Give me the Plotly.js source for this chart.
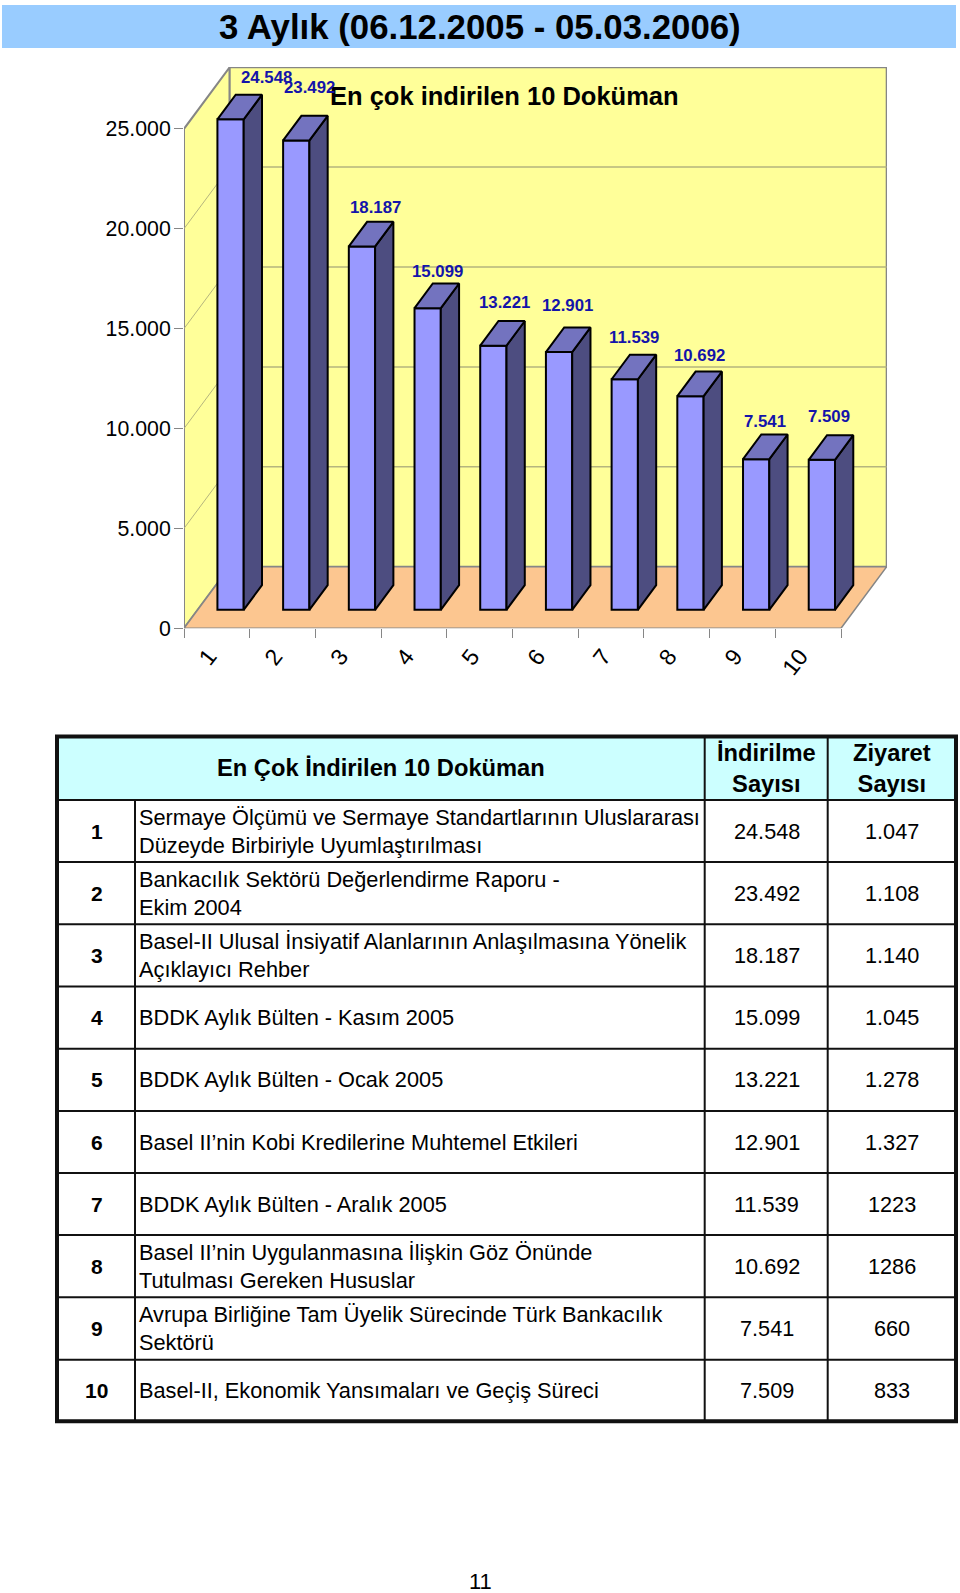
<!DOCTYPE html>
<html>
<head>
<meta charset="utf-8">
<script src="https://cdn.plot.ly/plotly-3.0.1.min.js"></script>
<style>html,body{margin:0;padding:0;background:#fff}#chart{width:960px;height:1593px}</style>
</head>
<body>
<div id="chart"></div>
<script>
const ranks = [1, 2, 3, 4, 5, 6, 7, 8, 9, 10];
const downloads = [24548, 23492, 18187, 15099, 13221, 12901, 11539, 10692, 7541, 7509];
const visitLabels = ['1.047', '1.108', '1.140', '1.045', '1.278', '1.327', '1223', '1286', '660', '833'];
const documents = [
  'Sermaye Ölçümü ve Sermaye Standartlarının Uluslararası<br>Düzeyde Birbiriyle Uyumlaştırılması',
  'Bankacılık Sektörü Değerlendirme Raporu -<br>Ekim 2004',
  'Basel-II Ulusal İnsiyatif Alanlarının Anlaşılmasına Yönelik<br>Açıklayıcı Rehber',
  'BDDK Aylık Bülten - Kasım 2005',
  'BDDK Aylık Bülten - Ocak 2005',
  'Basel II’nin Kobi Kredilerine Muhtemel Etkileri',
  'BDDK Aylık Bülten - Aralık 2005',
  'Basel II’nin Uygulanmasına İlişkin Göz Önünde<br>Tutulması Gereken Hususlar',
  'Avrupa Birliğine Tam Üyelik Sürecinde Türk Bankacılık<br>Sektörü',
  'Basel-II, Ekonomik Yansımaları ve Geçiş Süreci'
];
const yTicks = [0, 5000, 10000, 15000, 20000, 25000];
const yTickLabels = ['0', '5.000', '10.000', '15.000', '20.000', '25.000'];

const pageTitle = '3 Aylık (06.12.2005 - 05.03.2006)';
const chartTitle = 'En çok indirilen 10 Doküman';
const tableTitle = 'En Çok İndirilen 10 Doküman';
const colHead1 = 'İndirilme<br>Sayısı';
const colHead2 = 'Ziyaret<br>Sayısı';
const pageNumber = '11';

// ---- layout constants (pixels on the 960x1593 page) ----
const W = 960, H = 1593;
const plotL = 184, plotR = 887, plotB = 628.3, plotT = 67;
const pxPerCat = 65.7, pxPerVal = 0.01998;
const depthX = 45.7 / pxPerCat, depthY = 61.6 / pxPerVal;   // oblique depth in data units
const f0 = 0.30, f1 = 0.70, barW = 0.40;
const labelShiftX = [36, 13.6, 13.5, 9.6, 10.8, 8.6, 8.9, 9.2, 8.9, 7.5];
const labelShiftY = [16.8, 28.6, 14.6, 12.3, 18.8, 22.2, 16.7, 16.4, 12.6, 18.3];
const FONT = 'Liberation Sans, Arial, sans-serif';
const GRAY = '#868686', GRID = '#b5b57e';
const px = v => v / W, py = v => 1 - v / H;

const xMin = 0.5, xMax = 0.5 + (plotR - plotL) / pxPerCat;
const xEnd = 10.5;
const yMax = (plotB - plotT) / pxPerVal;
const yTop = 25000;

// ---- 3D bars ----
const frontX = ranks.map(r => r + f0 * depthX);
const baseY = f0 * depthY;
const dX = (f1 - f0) * depthX, dY = (f1 - f0) * depthY;

const sideX = [], sideY = [], topX = [], topY = [];
ranks.forEach((r, i) => {
  const xl = frontX[i] - barW / 2, xr = frontX[i] + barW / 2, yb = baseY, yt = baseY + downloads[i];
  sideX.push(xr, xr + dX, xr + dX, xr, xr, null);
  sideY.push(yb, yb + dY, yt + dY, yt, yb, null);
  topX.push(xl, xr, xr + dX, xl + dX, xl, null);
  topY.push(yt, yt, yt + dY, yt + dY, yt, null);
});

const traces = [
  { type: 'bar', x: frontX, y: downloads, base: baseY, width: barW,
    marker: { color: '#9999ff', line: { color: '#000', width: 2 } }, hoverinfo: 'skip' },
  { type: 'scatter', mode: 'lines', x: sideX, y: sideY, fill: 'toself', fillcolor: '#4d4d80',
    line: { color: '#000', width: 2 }, hoverinfo: 'skip', connectgaps: false },
  { type: 'scatter', mode: 'lines', x: topX, y: topY, fill: 'toself', fillcolor: '#7373bf',
    line: { color: '#000', width: 2 }, hoverinfo: 'skip', connectgaps: false }
];

// ---- walls and floor ----
const poly = pts => 'M' + pts.map(p => p[0] + ',' + p[1]).join('L') + 'Z';
const dataShape = (path, fill, line, w) => ({ type: 'path', xref: 'x', yref: 'y', layer: 'below', path,
  fillcolor: fill, line: { color: line, width: w } });
const dataLine = (x0, y0, x1, y1, color, w) => ({ type: 'line', xref: 'x', yref: 'y', layer: 'below',
  x0, y0, x1, y1, line: { color, width: w } });

const shapes = [
  dataShape(poly([[xMin, 0], [xMin + depthX, depthY], [xMin + depthX, depthY + yTop], [xMin, yTop]]), '#ffff99', GRAY, 2),
  dataShape(poly([[xMin + depthX, depthY], [xEnd + depthX, depthY], [xEnd + depthX, depthY + yTop], [xMin + depthX, depthY + yTop]]), '#ffff99', GRAY, 2),
  dataShape(poly([[xMin, 0], [xEnd, 0], [xEnd + depthX, depthY], [xMin + depthX, depthY]]), '#fcc690', GRAY, 1.5)
];
yTicks.slice(1, -1).forEach(v => {
  shapes.push(dataLine(xMin, v, xMin + depthX, v + depthY, GRID, 1));
  shapes.push(dataLine(xMin + depthX, v + depthY, xEnd + depthX, v + depthY, GRID, 1.5));
});

// ---- page heading and table frame ----
const paperRect = (x0, y0, x1, y1, fill) => ({ type: 'rect', xref: 'paper', yref: 'paper',
  x0: px(x0), x1: px(x1), y0: py(y0), y1: py(y1), fillcolor: fill, line: { width: 0 } });
const paperLine = (x0, y0, x1, y1, w) => ({ type: 'line', xref: 'paper', yref: 'paper',
  x0: px(x0), x1: px(x1), y0: py(y0), y1: py(y1), line: { color: '#111', width: w } });

shapes.push(paperRect(2, 5, 956, 48, '#99ccff'));

const tL = 57, tR = 956, tT = 736.5, tB = 1421.3;
const headB = 800;
const rowLines = [800, 862, 924.3, 986.6, 1048.8, 1111, 1173, 1235, 1297.3, 1359.7, tB];
const colA = 135, colB = 704.7, colC = 827.7;
shapes.push(paperRect(tL, tT, tR, headB, '#ccffff'));
rowLines.slice(0, -1).forEach(y => shapes.push(paperLine(tL, y, tR, y, 2)));
shapes.push(paperLine(colA, headB, colA, tB, 2));
shapes.push(paperLine(colB, tT, colB, tB, 2));
shapes.push(paperLine(colC, tT, colC, tB, 2));
shapes.push({ type: 'rect', xref: 'paper', yref: 'paper', x0: px(tL), x1: px(tR), y0: py(tT), y1: py(tB),
  fillcolor: 'rgba(0,0,0,0)', line: { color: '#111', width: 4 } });

// ---- texts ----
const note = (x, y, text, size, opts) => Object.assign({
  xref: 'paper', yref: 'paper', x: px(x), y: py(y), text, showarrow: false, borderpad: 0,
  xanchor: 'center', yanchor: 'middle', font: { family: FONT, size, color: '#000' }
}, opts || {});

const annotations = [
  note(480, 27, '<b>' + pageTitle + '</b>', 34.8),
  note(504.5, 96.5, '<b>' + chartTitle + '</b>', 25.5),
  note(381, 768.3, '<b>' + tableTitle + '</b>', 23.7),
  note(766.7, 769, '<b>' + colHead1 + '</b>', 23.7),
  note(892.3, 769, '<b>' + colHead2 + '</b>', 23.7),
  note(480, 1581.7, pageNumber, 22)
];
const fmt = v => { const s = String(v); return s.slice(0, -3) + '.' + s.slice(-3); };
ranks.forEach((r, i) => {
  const yc = (rowLines[i] + rowLines[i + 1]) / 2;
  annotations.push(note(96.7, yc, '<b>' + r + '</b>', 21));
  annotations.push(note(138, yc, documents[i], 21.75, { xanchor: 'left', align: 'left' }));
  annotations.push(note(766.7, yc, fmt(downloads[i]), 21.7));
  annotations.push(note(892.3, yc, visitLabels[i], 21.7));
  annotations.push({
    xref: 'x', yref: 'y', x: frontX[i], y: baseY + downloads[i] + dY, text: '<b>' + fmt(downloads[i]) + '</b>',
    showarrow: false, xanchor: 'center', yanchor: 'middle', borderpad: 0,
    xshift: labelShiftX[i], yshift: labelShiftY[i],
    font: { family: FONT, size: 16.8, color: '#1414aa' }
  });
});

const layout = {
  width: W, height: H,
  margin: { l: 0, r: 0, t: 0, b: 0, pad: 0 },
  paper_bgcolor: '#fff', plot_bgcolor: 'rgba(0,0,0,0)',
  showlegend: false, hovermode: false, barmode: 'overlay',
  font: { family: FONT, color: '#000' },
  xaxis: {
    domain: [px(plotL), px(plotR)], range: [xMin, xMax], fixedrange: true,
    tickmode: 'array', tickvals: ranks, ticktext: ranks.map(String),
    tickangle: -52, ticks: '', showgrid: false, zeroline: false, showline: false,
    tickfont: { family: FONT, size: 23, color: '#000' },
    ticklabelstandoff: 9, ticklabelshift: -8,
    minor: { ticks: 'outside', tick0: 0.5, dtick: 1, ticklen: 9, tickcolor: GRAY, tickwidth: 1, showgrid: false }
  },
  yaxis: {
    domain: [py(plotB), py(plotT)], range: [0, yMax], fixedrange: true,
    tickmode: 'array', tickvals: yTicks, ticktext: yTickLabels,
    ticks: 'outside', ticklen: 9, tickcolor: GRAY, tickwidth: 1, ticklabelstandoff: -1,
    showgrid: false, zeroline: false, showline: false,
    tickfont: { family: FONT, size: 21.3, color: '#000' }
  },
  shapes, annotations
};

Plotly.newPlot('chart', traces, layout, { displayModeBar: false, staticPlot: true });
</script>
</body>
</html>
